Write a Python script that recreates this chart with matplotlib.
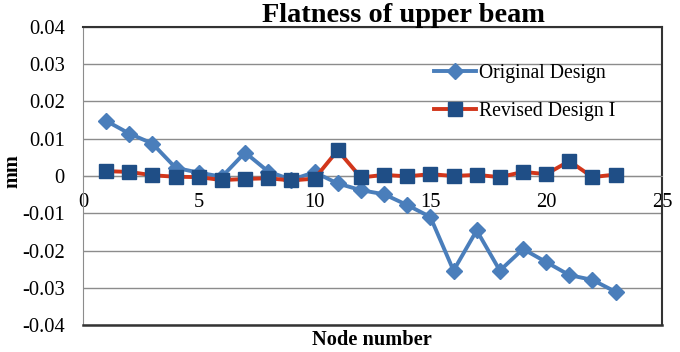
import matplotlib.pyplot as plt
import numpy as np

nodes = list(range(1, 24))
original = [0.0148, 0.0114, 0.0087, 0.0022, 0.0009, -0.0002, 0.0063, 0.0012, -0.0010, 0.0010,
            -0.0020, -0.0038, -0.0049, -0.0078, -0.0110, -0.0254, -0.0146, -0.0254, -0.0196,
            -0.0231, -0.0266, -0.0279, -0.0311]
revised = [0.0013, 0.0011, 0.0002, -0.0002, -0.0003, -0.0011, -0.0008, -0.0006, -0.0012, -0.0007,
           0.0069, -0.0004, 0.0003, -0.0001, 0.0005, 0.0000, 0.0003, -0.0003, 0.0011,
           0.0005, 0.0040, -0.0003, 0.0004]
yticks = [0.04, 0.03, 0.02, 0.01, 0, -0.01, -0.02, -0.03, -0.04]
ytick_labels = ['0.04', '0.03', '0.02', '0.01', '0', '-0.01', '-0.02', '-0.03', '-0.04']
xticks = [0, 5, 10, 15, 20, 25]

plt.rc('font', family=['Liberation Serif', 'DejaVu Serif'])

fig = plt.figure(figsize=(6.8, 3.52), dpi=100)
ax = fig.add_axes([0.122, 0.0767, 0.8515, 0.8466])

ax.plot(nodes, original, color='#4A7EBB', lw=2.8, marker='D', ms=8.5,
        mfc='#4A7EBB', mec='#4A7EBB', label='Original Design', zorder=3)
ax.plot(nodes, revised, color='#D2361B', lw=2.8, marker='s', ms=9.5,
        mfc='#1F4E86', mec='#1F4E86', label='Revised Design I', zorder=4)

ax.set_xlim(0, 25)
ax.set_ylim(-0.04, 0.04)
ax.set_yticks(yticks)
ax.set_yticklabels(ytick_labels)
ax.set_xticks(xticks)
ax.yaxis.grid(True, color='#8C8C8C', lw=1)
ax.set_axisbelow(True)
ax.tick_params(axis='both', length=0, labelsize=14.8)
ax.tick_params(axis='y', pad=13)
ax.tick_params(axis='x', pad=12)

# x axis crosses at zero, box drawn around plot area
ax.spines['bottom'].set_position(('data', 0))
ax.spines['bottom'].set_color('#8C8C8C')
ax.spines['left'].set_color('#8C8C8C')
ax.spines['top'].set_color('#333333')
ax.spines['right'].set_color('#333333')
ax.spines['top'].set_linewidth(1.5)
ax.spines['right'].set_linewidth(1.5)
ax.axhline(-0.04, color='#333333', lw=1.8, clip_on=False, zorder=5)

leg = ax.legend(loc='upper left', bbox_to_anchor=(0.607, 0.876), frameon=False,
                fontsize=14.2, handlelength=2.1, handletextpad=0.15, labelspacing=0.95,
                borderpad=0, borderaxespad=0)

fig.text(0.594, 0.955, 'Flatness of upper beam', ha='center', va='center',
         fontsize=20.4, fontweight='bold')
fig.text(0.018, 0.515, 'mm', rotation=90, ha='center', va='center',
         fontsize=14.5, fontweight='bold')
fig.text(0.547, 0.035, 'Node number', ha='center', va='center',
         fontsize=14.7, fontweight='bold')

plt.savefig('out.png', dpi=100)
